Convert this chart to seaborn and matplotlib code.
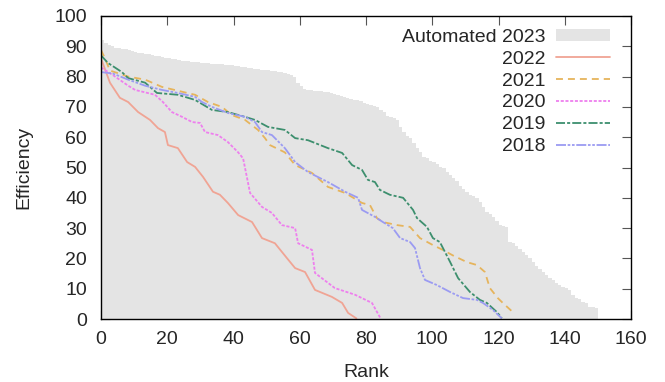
import numpy as np
import pandas as pd
import matplotlib
matplotlib.use("Agg")
import matplotlib.pyplot as plt
import seaborn as sns
from matplotlib.patches import Patch
from matplotlib.lines import Line2D

# ---------------- data ----------------
auto2023 = [92.0, 91.0, 90.5, 90.0, 89.6, 89.4, 89.2, 89.0, 88.7, 88.4,
            88.1, 87.9, 87.7, 87.5, 87.3, 87.1, 86.9, 86.7, 86.5, 86.3,
            86.1, 85.9, 85.7, 85.5, 85.3, 85.1, 85.0, 84.9, 84.8, 84.7,
            84.6, 84.5, 84.4, 84.3, 84.2, 84.1, 84.0, 83.9, 83.8, 83.7,
            83.6, 83.5, 83.3, 83.1, 83.0, 82.8, 82.6, 82.4, 82.3, 82.2,
            82.1, 82.0, 81.8, 81.6, 81.4, 81.2, 81.0, 80.6, 80.0, 78.0,
            77.0, 75.8, 75.6, 75.5, 75.4, 75.3, 75.2, 75.0, 74.9, 74.6,
            74.2, 73.9, 73.6, 73.3, 73.0, 72.7, 72.4, 72.2, 71.8, 71.4,
            71.0, 70.6, 70.3, 70.0, 69.0, 68.3, 67.0, 66.7, 66.2, 65.7,
            63.5, 61.7, 60.5, 59.7, 58.0, 56.5, 55.0, 53.5, 53.0, 52.0,
            51.8, 51.0, 50.2, 49.8, 48.5, 47.5, 46.5, 45.5, 44.0, 43.0,
            41.9, 41.0, 40.5, 40.0, 38.5, 37.0, 35.3, 34.5, 33.5, 32.5,
            31.0, 30.7, 30.4, 25.5, 25.0, 24.0, 23.0, 22.0, 21.0, 20.0,
            18.8, 17.5, 16.5, 15.5, 14.5, 13.5, 12.9, 12.0, 11.2, 10.6,
            10.2, 9.6, 8.0, 6.9, 6.5, 5.5, 5.3, 4.0, 3.8, 3.6]

rank_2022 = [0, 2.7, 5.7, 8.2, 11.2, 14.8, 17.2, 19.3, 20.2, 23.2, 26, 28.4, 30.8,
             33.8, 35.9, 38.3, 41.4, 45.6, 48.6, 52.5, 56.2, 58.6, 61.6, 64.6,
             69.7, 72.8, 74.6, 77.1]
eff_2022 = [86, 78, 73, 71.6, 68.3, 65.7, 63, 61.7, 57.4, 56.4, 51.8, 50.2, 46.9,
            42, 41, 38.3, 34.3, 32, 26.7, 25, 20, 16.8, 15.5, 9.6,
            7.3, 5.3, 2, 0.2]

rank_2021 = [0, 1.2, 2.7, 8.2, 13.3, 18.4, 24.5, 28.4, 32.3, 36.5, 39.5, 43.5,
             47.4, 49.5, 51, 55.5, 58.6, 63.7, 68.5, 73.7, 78.8, 81.2, 83.3,
             85.1, 89.3, 93.3, 96.3, 100.2, 103.2, 106.2, 110.4, 113.5, 115.9,
             117.4, 119.8, 121.3, 124.2]
eff_2021 = [88.8, 86, 82, 80, 79, 76.6, 75, 74, 71.6, 70, 67.3, 65.7,
            62.4, 59.7, 57.4, 55, 50.8, 48.2, 43.6, 41.6, 38.3, 37.6, 33.3,
            32, 31, 30.4, 26.7, 24.4, 22.8, 21, 18.8, 17.8, 15.5,
            10.2, 6.9, 5.3, 2.4]

rank_2020 = [0, 3.6, 8.2, 10.3, 16.3, 18.7, 21.4, 24.5, 27.5, 29.9, 31.4, 35.3,
             38.3, 41.4, 42.9, 44.1, 45, 48.6, 51.6, 54.6, 58.6, 59.5, 63.7,
             64.6, 70.6, 76.7, 81.8, 84.4]
eff_2020 = [83, 80.5, 77, 75.6, 74, 71.6, 68.3, 66.7, 65, 64.7, 61.7, 60.7,
            58.4, 55, 53, 46.5, 41.6, 37, 35, 31, 30, 25, 22.8,
            15.2, 10.2, 8, 5.3, 0.2]

rank_2019 = [0, 2.1, 6.3, 8.2, 13.3, 16.9, 23.2, 28.4, 33.5, 38.3, 43.5, 46.5,
             50.4, 55.5, 58.6, 62.5, 68.5, 72.8, 75.8, 78.8, 80.6, 82.7, 84.2,
             87.2, 91.2, 94.2, 95.4, 98.4, 100.2, 102.3, 105.4, 107.8, 111.4,
             114.4, 116.5, 119.5, 121]
eff_2019 = [87, 84.5, 81.5, 79.5, 78, 74.6, 74, 72.3, 69, 68.3, 66.7, 65.7,
            63.4, 62.4, 59.7, 59, 56.4, 54.8, 50.8, 49.2, 45.9, 45.2, 42.6,
            41, 40, 36, 33.3, 30.4, 26.7, 25.4, 18.8, 13.5, 8.9,
            6.3, 5.3, 2.3, 0.3]

rank_2018 = [0, 3.6, 8.2, 13.3, 18.4, 23.2, 28.4, 30.5, 33.5, 38.3, 43.5, 46.5,
             48.6, 51.6, 55.5, 58.6, 62.5, 68.5, 73.7, 77.6, 78.8, 82.7, 85.1,
             88.1, 90.3, 93.3, 94.8, 96.3, 97.8, 101.4, 105.4, 109.3, 113.5,
             115.3, 118.3, 121.0]
eff_2018 = [81.5, 81, 79, 77, 75.6, 74.6, 73.3, 71.6, 70, 68, 66.7, 65,
            61.7, 60.7, 56.4, 51.8, 48.5, 45.2, 42, 40, 36, 33.7, 32,
            30, 26.7, 25.4, 23.4, 16.8, 12.9, 11.2, 8.9, 6.9, 6.3,
            5.3, 3, 0.2]

x_ticks = [0, 20, 40, 60, 80, 100, 120, 140, 160]
y_ticks = [0, 10, 20, 30, 40, 50, 60, 70, 80, 90, 100]

# ---------------- style ----------------
sns.set_theme(style="white")
plt.rcParams['font.family'] = ['Liberation Sans', 'DejaVu Sans']
plt.rcParams['lines.scale_dashes'] = False
FS = 14

fig = plt.figure(figsize=(6.65, 3.82), dpi=100)
ax = fig.add_axes([101 / 665, 1 - 319 / 382, 530 / 665, 303 / 382])

grey = "#e4e4e4"
edges = np.arange(len(auto2023) + 1)
ax.stairs(auto2023, edges, fill=True, color=grey, linewidth=0, zorder=1)

series = [
    ("2022", rank_2022, eff_2022, "#f0a494", "-"),
    ("2021", rank_2021, eff_2021, "#e6b45c", (0, (5, 3.6))),
    ("2020", rank_2020, eff_2020, "#ee7fee", (0, (2.2, 1.2))),
    ("2019", rank_2019, eff_2019, "#3d8f6e", (0, (6.5, 1.5, 2.2, 1.5))),
    ("2018", rank_2018, eff_2018, "#9b9bf2", (0, (7.2, 1.2, 1.9, 1.2, 1.9, 1.2))),
]

handles = [Patch(facecolor=grey, edgecolor="none", label="Automated 2023")]
for label, xs, ys, col, ls in series:
    df = pd.DataFrame({"Rank": xs, "Efficiency": ys})
    sns.lineplot(data=df, x="Rank", y="Efficiency", ax=ax, color=col,
                 linewidth=1.3, sort=False, estimator=None, zorder=3)
    ax.lines[-1].set_linestyle(ls)
    handles.append(Line2D([0], [0], color=col, linewidth=1.3, linestyle=ls, label=label))

ax.set_xlim(0, 160)
ax.set_ylim(0, 100)
ax.set_xticks(x_ticks)
ax.set_yticks(y_ticks)
ax.set_xticklabels([str(t) for t in x_ticks], fontsize=FS)
ax.set_yticklabels([str(t) for t in y_ticks], fontsize=FS)
ax.tick_params(axis="both", direction="in", length=6.5, width=0.8, color="#555555",
               top=True, right=True, bottom=True, left=True)
ax.tick_params(axis="x", pad=9)
ax.tick_params(axis="y", pad=10)
for s in ax.spines.values():
    s.set_color("black")
    s.set_linewidth(1.0)
    s.set_zorder(5)

ax.set_xlabel("Rank", fontsize=FS, labelpad=11)
ax.set_ylabel("Efficiency", fontsize=FS, labelpad=16)

leg = ax.legend(handles=handles, loc="upper right", markerfirst=False, frameon=False,
                fontsize=FS, handlelength=2.8, handleheight=0.6, handletextpad=0.55,
                labelspacing=0.25, borderaxespad=0.0,
                bbox_to_anchor=(618 / 665, 1 - 21 / 382),
                bbox_transform=fig.transFigure)

fig.savefig("out.png", dpi=100)
